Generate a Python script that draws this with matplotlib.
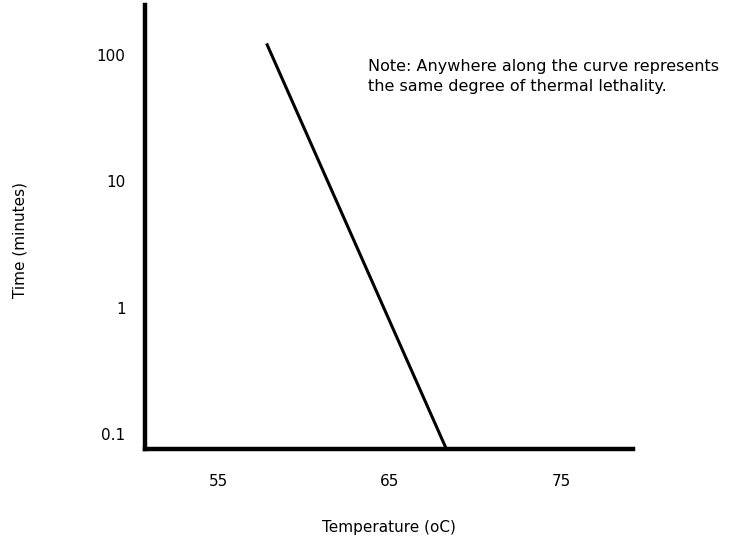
import matplotlib
matplotlib.use('Agg')
import matplotlib.pyplot as plt
from matplotlib.ticker import FixedLocator, FixedFormatter

# Thermal death time curve
temp = [57.8, 68.3]          # degrees C
time_min = [124, 0.076]      # minutes

yticks = [0.1, 1, 10, 100]
ytick_labels = ['0.1', '1', '10', '100']
xticks = [55, 65, 75]
xtick_labels = ['55', '65', '75']

note = 'Note: Anywhere along the curve represents\nthe same degree of thermal lethality.'

fig = plt.figure(figsize=(7.52, 5.37), dpi=100)
W, H = 752, 537
left, right, top, bottom = 145, 633, 5, 449
ax = fig.add_axes([left / W, (H - bottom) / H, (right - left) / W, (bottom - top) / H])

ax.plot(temp, time_min, color='black', lw=2.2, solid_capstyle='butt')

ax.set_yscale('log')
ax.set_xlim(50.7, 79.2)
ax.set_ylim(0.076, 250)

ax.yaxis.set_major_locator(FixedLocator(yticks))
ax.yaxis.set_major_formatter(FixedFormatter(ytick_labels))
ax.yaxis.set_minor_locator(FixedLocator([]))
ax.xaxis.set_major_locator(FixedLocator(xticks))
ax.xaxis.set_major_formatter(FixedFormatter(xtick_labels))

ax.tick_params(axis='both', length=0, labelsize=11)
ax.tick_params(axis='x', pad=18)
ax.tick_params(axis='y', pad=14)

for s in ['top', 'right']:
    ax.spines[s].set_visible(False)
for s in ['left', 'bottom']:
    ax.spines[s].set_linewidth(3.2)
    ax.spines[s].set_color('black')

ax.set_xlabel('Temperature (oC)', fontsize=11, labelpad=22)
ax.set_ylabel('Time (minutes)', fontsize=11)
ax.yaxis.set_label_coords(-0.24, 0.47)

ax.text(0.457, 0.878, note, transform=ax.transAxes, fontsize=11.5,
        va='top', ha='left', linespacing=1.4)

fig.savefig('out.png', dpi=100)
